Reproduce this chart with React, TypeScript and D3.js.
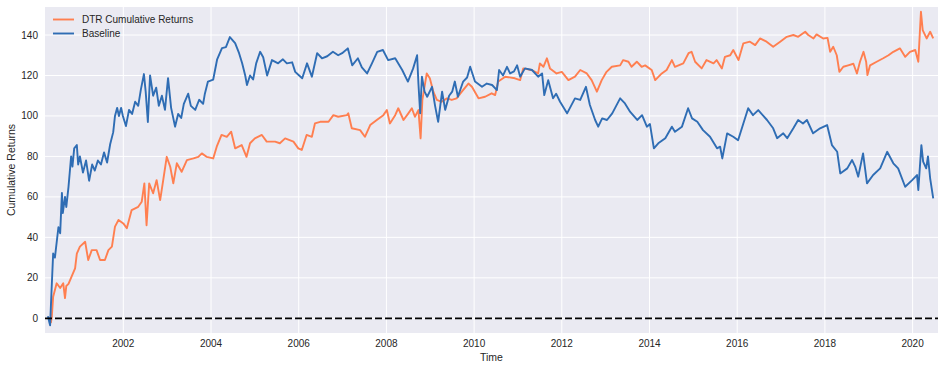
import React from "react";
import * as d3 from "d3";

const seriesNames = ["DTR Cumulative Returns", "Baseline"];
const seriesColors = ["#ff7f50", "#2f6db4"];

// [decimal year, cumulative return]
const dtrReturns: [number, number][] = [
  [2000.31, 0], [2000.35, -2], [2000.37, 1], [2000.40, 10.7], [2000.48, 17.3], [2000.56, 15], [2000.63, 17.3], [2000.67, 10],
  [2000.70, 16], [2000.75, 17], [2000.82, 20.6], [2000.90, 24.7], [2000.94, 32], [2001.01, 35.4], [2001.13, 37.8], [2001.20, 28.8],
  [2001.28, 33.7], [2001.39, 33.7], [2001.47, 28.8], [2001.58, 28.8], [2001.66, 33.7], [2001.74, 35.4], [2001.81, 45.3], [2001.89, 48.6],
  [2002.00, 46.9], [2002.08, 44.5], [2002.19, 53.5], [2002.34, 55.1], [2002.42, 57.6], [2002.48, 66.7], [2002.53, 46], [2002.59, 66.7],
  [2002.68, 61.8], [2002.76, 68.3], [2002.84, 58.4], [2002.91, 68.3], [2002.99, 79.8], [2003.07, 74.9], [2003.14, 66.7], [2003.22, 76.6],
  [2003.33, 72.4], [2003.45, 78.2], [2003.60, 79], [2003.71, 79.8], [2003.79, 81.5], [2003.90, 79.8], [2004.05, 79], [2004.13, 84.8],
  [2004.24, 90.6], [2004.36, 89.7], [2004.46, 92.2], [2004.55, 84], [2004.70, 85.6], [2004.81, 79.8], [2004.89, 86.5], [2005.00, 88.9],
  [2005.16, 90.6], [2005.27, 87.3], [2005.46, 87.3], [2005.57, 86.5], [2005.69, 88.9], [2005.88, 87.3], [2005.99, 84], [2006.07, 83.2],
  [2006.18, 90.6], [2006.30, 89.7], [2006.37, 96.3], [2006.49, 97.1], [2006.68, 97.1], [2006.79, 100.4], [2006.90, 99.6], [2007.10, 100.4],
  [2007.13, 101.3], [2007.21, 93.9], [2007.40, 93], [2007.51, 89.7], [2007.63, 95.5], [2007.78, 98], [2007.93, 100.4], [2008.01, 102.9],
  [2008.08, 96.3], [2008.20, 100.4], [2008.27, 103.8], [2008.39, 98], [2008.50, 101.3], [2008.58, 103.8], [2008.65, 99.6], [2008.73, 102.9],
  [2008.78, 88.9], [2008.82, 107.9], [2008.92, 121], [2008.99, 118.6], [2009.07, 112], [2009.15, 107.9], [2009.26, 107], [2009.38, 108.7],
  [2009.49, 107.9], [2009.60, 108.7], [2009.72, 112], [2009.87, 116], [2009.95, 114.4], [2010.10, 108.7], [2010.25, 109.5], [2010.40, 111.2],
  [2010.48, 110.3], [2010.55, 117], [2010.71, 119.4], [2010.93, 118.6], [2011.05, 117.7], [2011.12, 123.5], [2011.31, 122.7], [2011.46, 121],
  [2011.50, 126], [2011.58, 124.3], [2011.66, 128.5], [2011.73, 123.5], [2011.88, 121], [2012.00, 121.8], [2012.15, 117.7], [2012.30, 119.4],
  [2012.42, 122.7], [2012.57, 121], [2012.68, 117.7], [2012.80, 112], [2012.91, 117.7], [2013.02, 121.8], [2013.14, 124.3], [2013.33, 125],
  [2013.40, 127.6], [2013.52, 126.8], [2013.59, 124.3], [2013.71, 126.8], [2013.82, 124.3], [2013.90, 125], [2014.05, 122.7], [2014.13, 117.7],
  [2014.28, 121], [2014.39, 122.7], [2014.51, 127.6], [2014.58, 124.3], [2014.77, 126], [2014.89, 131], [2014.96, 131.7], [2015.04, 126.8],
  [2015.19, 123.5], [2015.30, 127.6], [2015.46, 126], [2015.53, 127.6], [2015.65, 123.5], [2015.72, 129.2], [2015.84, 130], [2015.91, 132.6],
  [2016.03, 127.6], [2016.14, 135.9], [2016.29, 136.7], [2016.41, 135], [2016.52, 138.3], [2016.67, 136.7], [2016.82, 134.2], [2016.98, 136.7],
  [2017.13, 139.1], [2017.28, 140], [2017.39, 139.1], [2017.55, 141.6], [2017.62, 140], [2017.74, 138.3], [2017.81, 140.3], [2017.96, 138.3],
  [2018.06, 138.6], [2018.12, 131.7], [2018.19, 134.2], [2018.27, 130], [2018.33, 121.8], [2018.42, 124.3], [2018.53, 125], [2018.65, 125.8],
  [2018.73, 121], [2018.80, 126.8], [2018.88, 131.7], [2018.94, 126.8], [2018.97, 120.2], [2019.03, 125], [2019.18, 126.8], [2019.33, 128.5],
  [2019.45, 130], [2019.56, 131.7], [2019.71, 133.4], [2019.83, 129.2], [2019.94, 131.7], [2020.06, 132.6], [2020.13, 126.8], [2020.19, 151.5],
  [2020.23, 142.4], [2020.32, 138.3], [2020.40, 141.6], [2020.47, 138.3],
];

const baselineReturns: [number, number][] = [
  [2000.28, 1], [2000.33, -3.5], [2000.36, 12], [2000.40, 32], [2000.44, 30], [2000.52, 45], [2000.56, 42], [2000.60, 62],
  [2000.62, 52], [2000.67, 60], [2000.70, 55], [2000.75, 65], [2000.81, 80], [2000.84, 75], [2000.88, 84], [2000.94, 85.6],
  [2000.97, 76], [2001.01, 80], [2001.08, 72], [2001.15, 78], [2001.22, 68], [2001.29, 76], [2001.35, 73], [2001.42, 78],
  [2001.49, 76], [2001.56, 82], [2001.63, 77], [2001.70, 86], [2001.77, 92], [2001.81, 100], [2001.86, 104], [2001.90, 100],
  [2001.95, 104], [2001.99, 100], [2002.06, 95], [2002.13, 103], [2002.20, 101], [2002.27, 107], [2002.34, 105], [2002.40, 113],
  [2002.47, 120.7], [2002.51, 112], [2002.56, 97], [2002.61, 120], [2002.68, 110], [2002.75, 114], [2002.81, 105], [2002.88, 110],
  [2002.95, 103], [2003.02, 118.7], [2003.09, 104], [2003.18, 94.7], [2003.25, 101], [2003.32, 99], [2003.38, 106], [2003.48, 111],
  [2003.54, 105], [2003.64, 103], [2003.73, 108], [2003.82, 106], [2003.86, 111], [2003.93, 117], [2004.05, 118], [2004.14, 128],
  [2004.25, 133.5], [2004.34, 134], [2004.43, 139], [2004.55, 136], [2004.64, 131], [2004.71, 126], [2004.78, 120], [2004.82, 115.3],
  [2004.89, 120], [2004.96, 118], [2005.03, 126], [2005.12, 131.7], [2005.19, 129], [2005.28, 120], [2005.39, 127.6], [2005.53, 126],
  [2005.64, 128], [2005.73, 126], [2005.85, 126.5], [2005.92, 121.8], [2006.01, 120], [2006.08, 118.6], [2006.19, 126], [2006.30, 119.4],
  [2006.42, 131], [2006.53, 128.5], [2006.65, 129.5], [2006.78, 131.7], [2006.90, 130], [2006.99, 131], [2007.12, 133.4], [2007.22, 125],
  [2007.35, 128.5], [2007.44, 124], [2007.56, 121], [2007.67, 126], [2007.79, 131.7], [2007.92, 132.6], [2008.04, 127.6], [2008.20, 128.5],
  [2008.36, 122.7], [2008.49, 117], [2008.61, 123.5], [2008.70, 130], [2008.73, 116], [2008.77, 101.3], [2008.81, 119.4], [2008.87, 112],
  [2008.93, 109.5], [2009.04, 114.4], [2009.11, 105], [2009.18, 97.1], [2009.27, 112], [2009.34, 103], [2009.43, 110], [2009.50, 112],
  [2009.56, 117], [2009.63, 109.5], [2009.75, 117], [2009.84, 119], [2009.91, 124.3], [2010.02, 117], [2010.18, 114.4], [2010.29, 116],
  [2010.41, 115.3], [2010.52, 112.8], [2010.57, 122.7], [2010.66, 120], [2010.75, 124.3], [2010.82, 121], [2010.91, 122], [2010.98, 125],
  [2011.05, 119.4], [2011.16, 123.5], [2011.32, 122.7], [2011.46, 119.4], [2011.55, 121], [2011.60, 110.3], [2011.69, 117.7], [2011.80, 108.7],
  [2011.87, 111], [2011.96, 107], [2012.12, 101.3], [2012.21, 105], [2012.30, 108.7], [2012.42, 107.9], [2012.55, 114.4], [2012.64, 105.4],
  [2012.76, 98], [2012.83, 94.7], [2012.92, 98.8], [2013.03, 98], [2013.15, 101.3], [2013.24, 105], [2013.33, 108.7], [2013.44, 106.2],
  [2013.56, 102], [2013.72, 98], [2013.83, 100.4], [2013.94, 94.7], [2014.01, 96], [2014.10, 84], [2014.20, 86.5], [2014.36, 89],
  [2014.51, 94.7], [2014.58, 92.2], [2014.74, 94.7], [2014.88, 103.8], [2014.97, 98.8], [2015.09, 97.1], [2015.22, 93], [2015.38, 89.7],
  [2015.54, 84], [2015.61, 84.8], [2015.66, 79], [2015.77, 91.4], [2015.91, 89.7], [2016.02, 88], [2016.14, 96.3], [2016.25, 103.8],
  [2016.36, 100.4], [2016.48, 102.9], [2016.68, 98], [2016.82, 93.9], [2016.91, 89], [2017.05, 91.4], [2017.14, 89], [2017.28, 93.9],
  [2017.39, 98], [2017.50, 96.3], [2017.59, 98], [2017.73, 91.4], [2017.89, 93.9], [2018.05, 95.5], [2018.16, 85.6], [2018.28, 82.3],
  [2018.35, 71.6], [2018.51, 74.1], [2018.62, 78.2], [2018.69, 75], [2018.76, 70], [2018.87, 81.5], [2018.96, 66.7], [2019.10, 70.8],
  [2019.26, 74.1], [2019.42, 82.3], [2019.56, 76.6], [2019.67, 74.1], [2019.83, 65], [2019.99, 68.3], [2020.10, 70.8], [2020.13, 63.4],
  [2020.20, 85.6], [2020.24, 77.4], [2020.31, 74.1], [2020.35, 80], [2020.40, 69.2], [2020.47, 59.3],
];

const xTicks = [2002, 2004, 2006, 2008, 2010, 2012, 2014, 2016, 2018, 2020];
const yTicks = [0, 20, 40, 60, 80, 100, 120, 140];
const xDomain: [number, number] = [2000.214, 2020.579];
const yDomain: [number, number] = [-7.26, 153.84];

const W = 945;
const H = 370;
const M = { left: 45, top: 7, right: 938, bottom: 333 };
const FONT = "'Liberation Sans', Arial, 'DejaVu Sans', sans-serif";
const TXT = "#262626";

export default function App() {
  const x = d3.scaleLinear().domain(xDomain).range([M.left, M.right]);
  const y = d3.scaleLinear().domain(yDomain).range([M.bottom, M.top]);
  const line = d3
    .line<[number, number]>()
    .x((d) => x(d[0]))
    .y((d) => y(d[1]));
  const series = [dtrReturns, baselineReturns];

  return (
    <svg
      width={W}
      height={H}
      style={{ position: "absolute", left: 0, top: 0, display: "block", background: "#fff" }}
      fontFamily={FONT}
    >
      <rect x={M.left} y={M.top} width={M.right - M.left} height={M.bottom - M.top} fill="#eaeaf2" />
      {xTicks.map((t) => (
        <line key={"gx" + t} x1={x(t)} x2={x(t)} y1={M.top} y2={M.bottom} stroke="#fff" strokeWidth={1} />
      ))}
      {yTicks.map((t) => (
        <line key={"gy" + t} x1={M.left} x2={M.right} y1={y(t)} y2={y(t)} stroke="#fff" strokeWidth={1} />
      ))}
      <clipPath id="plotclip">
        <rect x={M.left} y={M.top} width={M.right - M.left} height={M.bottom - M.top} />
      </clipPath>
      <g clipPath="url(#plotclip)">
        {series.map((s, i) => (
          <path
            key={"s" + i}
            d={line(s) || ""}
            fill="none"
            stroke={seriesColors[i]}
            strokeWidth={1.9}
            strokeLinejoin="round"
          />
        ))}
        <line
          x1={M.left}
          x2={M.right}
          y1={y(0)}
          y2={y(0)}
          stroke="#000"
          strokeWidth={1.8}
          strokeDasharray="7,3"
        />
      </g>
      {xTicks.map((t) => (
        <text key={"tx" + t} x={x(t)} y={M.bottom + 14} textAnchor="middle" fontSize={10} fill={TXT}>
          {t}
        </text>
      ))}
      {yTicks.map((t) => (
        <text key={"ty" + t} x={M.left - 7} y={y(t) + 3.5} textAnchor="end" fontSize={10} fill={TXT}>
          {t}
        </text>
      ))}
      <text x={(M.left + M.right) / 2} y={361} textAnchor="middle" fontSize={10.5} fill={TXT}>
        Time
      </text>
      <text
        transform={`translate(15,${(M.top + M.bottom) / 2}) rotate(-90)`}
        textAnchor="middle"
        fontSize={10.5}
        fill={TXT}
      >
        Cumulative Returns
      </text>
      {seriesNames.map((n, i) => (
        <g key={"lg" + i}>
          <line x1={53} x2={74} y1={19.5 + i * 14} y2={19.5 + i * 14} stroke={seriesColors[i]} strokeWidth={1.9} />
          <text x={82} y={23 + i * 14} fontSize={10} fill={TXT}>
            {n}
          </text>
        </g>
      ))}
    </svg>
  );
}
